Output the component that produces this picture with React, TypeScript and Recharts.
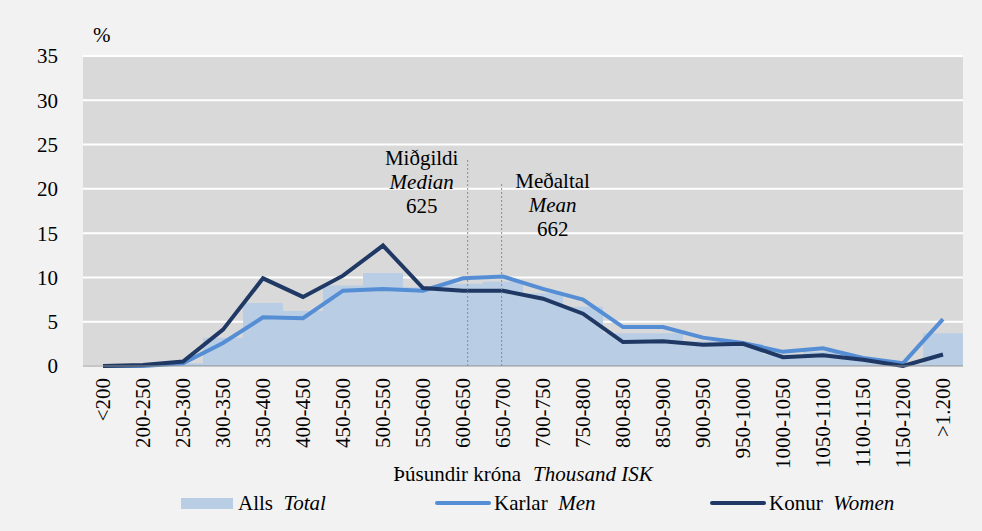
import {
  ComposedChart,
  Bar,
  Line,
  XAxis,
  YAxis,
  CartesianGrid,
  ReferenceLine,
  Legend,
} from 'recharts';

const categories = [
  '<200', '200-250', '250-300', '300-350', '350-400', '400-450', '450-500',
  '500-550', '550-600', '600-650', '650-700', '700-750', '750-800', '800-850',
  '850-900', '900-950', '950-1000', '1000-1050', '1050-1100', '1100-1150',
  '1150-1200', '>1.200',
];
const total = [0, 0.1, 0.3, 3.2, 7.1, 6.2, 9.1, 10.5, 8.9, 9.3, 9.5, 8.2, 6.7, 3.7, 3.7, 2.8, 2.5, 1.3, 1.6, 0.8, 0.2, 3.7];
const men = [0, 0, 0.3, 2.6, 5.5, 5.4, 8.5, 8.7, 8.5, 9.9, 10.1, 8.7, 7.5, 4.4, 4.4, 3.2, 2.6, 1.6, 2.0, 0.9, 0.3, 5.3];
const women = [0, 0.1, 0.5, 4.1, 9.9, 7.8, 10.2, 13.6, 8.8, 8.5, 8.5, 7.6, 5.9, 2.7, 2.8, 2.4, 2.5, 1.0, 1.2, 0.7, 0, 1.3];
const yTicks = [0, 5, 10, 15, 20, 25, 30, 35];

// median / mean markers: position along the axis (first to last category = 0..21), top of the dotted line
const markers = [
  { pos: 9.18, top: 23.3, lines: ['Miðgildi', 'Median', '625'], dx: -46 },
  { pos: 9.99, top: 20.7, lines: ['Meðaltal', 'Mean', '662'], dx: 51 },
];

const data = categories.map((c, i) => ({ name: c, total: total[i], men: men[i], women: women[i] }));

const FONT = "'Liberation Serif', 'Times New Roman', serif";
const FS = 21;
const COLORS = { bg: '#f2f2f2', plot: '#d9d9d9', total: '#b9cde5', men: '#558ed5', women: '#1f3864' };

function XTick({ x, y, payload }: any) {
  return (
    <g transform={`translate(${x},${y})`}>
      <text transform="rotate(-90)" x={0} y={0} dy="0.35em" textAnchor="end" fontSize={FS} fill="#000" fontFamily={FONT}>
        {payload.value}
      </text>
    </g>
  );
}

function MarkerLabel({ viewBox, lines, dx }: any) {
  const cx = viewBox.x + dx;
  return (
    <text textAnchor="middle" fontSize={FS} fontFamily={FONT} fill="#000">
      <tspan x={cx} y={viewBox.y + 5}>{lines[0]}</tspan>
      <tspan x={cx} y={viewBox.y + 29} fontStyle="italic">{lines[1]}</tspan>
      <tspan x={cx} y={viewBox.y + 53}>{lines[2]}</tspan>
    </text>
  );
}

function LegendContent() {
  const items = [
    { left: 181, kind: 'bar', color: COLORS.total, is: 'Alls', en: 'Total' },
    { left: 435, kind: 'line', color: COLORS.men, is: 'Karlar', en: 'Men' },
    { left: 710, kind: 'line', color: COLORS.women, is: 'Konur', en: 'Women' },
  ];
  return (
    <div style={{ position: 'relative', width: 982, height: 40, fontFamily: FONT, fontSize: FS, color: '#000' }}>
      {items.map((it) => (
        <div key={it.is} style={{ position: 'absolute', left: it.left, top: 0, display: 'flex', alignItems: 'center', whiteSpace: 'pre', lineHeight: '24px' }}>
          {it.kind === 'bar' ? (
            <span style={{ display: 'inline-block', width: 52, height: 11, background: it.color, marginRight: 5 }} />
          ) : (
            <span style={{ display: 'inline-block', width: 56, height: 4, borderRadius: 2, background: it.color, marginRight: 3 }} />
          )}
          <span>{it.is}</span>
          <span>{'  '}</span>
          <span style={{ fontStyle: 'italic' }}>{it.en}</span>
        </div>
      ))}
    </div>
  );
}

export default function App() {
  return (
    <div style={{ position: 'absolute', left: 0, top: 0, width: 982, height: 531, background: COLORS.bg }}>
      <ComposedChart
        width={982}
        height={531}
        data={data}
        margin={{ top: 56, right: 19, bottom: 0, left: 0 }}
        barCategoryGap={0}
      >
        <CartesianGrid vertical={false} stroke="#ffffff" strokeWidth={2} fill={COLORS.plot} />
        <XAxis
          dataKey="name"
          interval={0}
          height={125}
          tickLine={false}
          tickMargin={6}
          tick={<XTick />}
          axisLine={{ stroke: '#8c8c8c', strokeWidth: 1 }}
          label={(p: any) => {
            const vb = p.viewBox;
            return (
              <text x={vb.x + vb.width / 2} y={vb.y + 115} textAnchor="middle" fontSize={FS} fontFamily={FONT} fill="#000">
                <tspan>Þúsundir króna</tspan>
                <tspan dx={12} fontStyle="italic">Thousand ISK</tspan>
              </text>
            );
          }}
        />
        <XAxis xAxisId="pos" type="number" domain={[0, categories.length - 1]} allowDataOverflow hide />
        <YAxis
          domain={[0, 35]}
          ticks={yTicks}
          width={83}
          tickLine={false}
          axisLine={false}
          tickMargin={19}
          tick={{ fontSize: FS, fill: '#000', fontFamily: FONT }}
          label={() => (
            <text x={93} y={42} fontSize={FS} fontFamily={FONT} fill="#000">%</text>
          )}
        />
        <Bar dataKey="total" fill={COLORS.total} isAnimationActive={false} />
        <Line dataKey="men" stroke={COLORS.men} strokeWidth={4} dot={false} isAnimationActive={false} />
        <Line dataKey="women" stroke={COLORS.women} strokeWidth={4} dot={false} isAnimationActive={false} />
        {markers.map((m) => (
          <ReferenceLine
            key={m.lines[0]}
            xAxisId="pos"
            segment={[{ x: m.pos, y: 0 }, { x: m.pos, y: m.top }]}
            stroke="#8c8c8c"
            strokeWidth={1}
            strokeDasharray="2 2"
            label={(p: any) => <MarkerLabel viewBox={p.viewBox} lines={m.lines} dx={m.dx} />}
          />
        ))}
        <Legend verticalAlign="bottom" height={40} content={() => <LegendContent />} wrapperStyle={{ left: 0, width: 982 }} />
      </ComposedChart>
    </div>
  );
}
